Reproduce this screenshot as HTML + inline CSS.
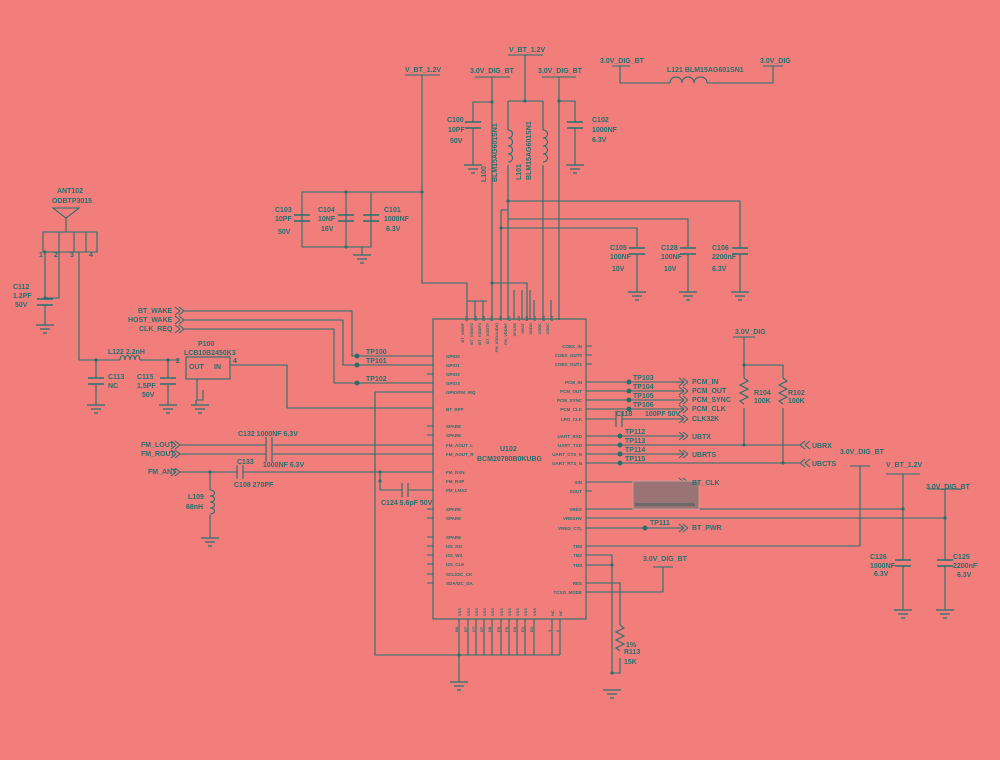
<!DOCTYPE html>
<html><head><meta charset="utf-8"><style>
html,body{margin:0;padding:0;background:#f27e7c;}
svg{display:block}
text{font-family:"Liberation Sans",sans-serif;font-weight:bold;fill:#24706f}
.l{font-size:7px}.s{font-size:4.5px}.t{font-size:4px}
</style></head><body>
<svg width="1000" height="760" viewBox="0 0 1000 760" xmlns="http://www.w3.org/2000/svg">
<defs>
<symbol id="g" overflow="visible"><path d="M-9 0H9M-5 4H5M-2 8H2" stroke="#24706f" stroke-width="1.3" fill="none"/></symbol>
<symbol id="cv" overflow="visible"><path d="M-8 -3H8M-8 3H8" stroke="#24706f" stroke-width="1.4"/></symbol>
</defs>
<rect width="1000" height="760" fill="#f27e7c"/>
<g stroke="#24706f" stroke-width="1.1" fill="none">
<rect x="433" y="319" width="153" height="300"/>
<path d="M405 75H440M422 75V283H467V320M467 301H487M422 192H302V247H371V192M346 192V247M362 247V255"/>
<path d="M475 77H510M492 77V320M492 102H473V122M473 128V165"/>
<path d="M508 55H543M525 55V101M508 101H543M508 101V130M508 165V320M543 101V130M543 165V320"/>
<path d="M542 77H576M559 77V320M559 101H575V122M575 128V165"/>
<path d="M492 283H527V320M501 210V320M501 210H508M508 201H740V248M508 219H688V248M501 228H637V248M740 254V292M688 254V292M637 254V292"/>
<path d="M475 301V320M483 301V320M514 290V320M522 290V320M530 290V320M534 300V320M551 300V320"/>
<path d="M508 130c6 0 6 8 0 8c6 0 6 8 0 8c6 0 6 8 0 8c6 0 6 8 0 8M543 130c6 0 6 8 0 8c6 0 6 8 0 8c6 0 6 8 0 8c6 0 6 8 0 8"/>
<path d="M612 66H630M620 66V83H670M707 83H773V66M763 66H783M670 83c0-8 12-8 12 0c0-8 12-8 12 0c0-8 13-8 13 0"/>
<path d="M53 208L79 208L66 218ZM66 218V232M43 232H97V252H43ZM59 232V252M74 232V252M86 232V252M45 252V298M45 305V325M59 252V298H45M79 252V360H120M140 360H178M168 360V378M168 384V405M96 360V378M96 384V405"/>
<path d="M120 360c0-6 5-6 5 0c0-6 5-6 5 0c0-6 5-6 5 0c0-6 5-6 5 0"/>
<rect x="186" y="357" width="44" height="22"/>
<path d="M230 365H287V408H433M197 379V400H203V390M196 400V405"/>
<path d="M184 311H352V356H433M184 320H343V365H433M184 329H334V383H433"/>
<path d="M184 311l-5-4m5 4l-5 4M184 320l-5-4m5 4l-5 4M184 329l-5-4m5 4l-5 4M180 311l-5-4m5 4l-5 4M180 320l-5-4m5 4l-5 4M180 329l-5-4m5 4l-5 4"/>
<path d="M180 445H266M272 445H433M180 454H266M272 454H433M266 437V462M272 437V462M180 472H237M243 472H433M237 465V479M243 465V479M210 472V490M210 515V538"/>
<path d="M210 490c6 0 6 6 0 6c6 0 6 6 0 6c6 0 6 6 0 6c6 0 6 6 0 6"/>
<path d="M180 445l-5-4m5 4l-5 4M180 454l-5-4m5 4l-5 4M176 445l-5-4m5 4l-5 4M176 454l-5-4m5 4l-5 4M180 472l-5-4m5 4l-5 4M176 472l-5-4m5 4l-5 4"/>
<path d="M380 472V490H402M408 490H433M402 483V497M408 483V497M375 392H433M375 392V655H560M459 619V682M468 619V655M476 619V655M484 619V655M492 619V655M501 619V655M509 619V655M517 619V655M525 619V655M534 619V655M552 619V655M560 619V655"/>
<path d="M586 382H684M586 391H684M586 400H684M586 409H684M586 419H616M622 419H684M616 411V427M622 411V427M586 436H684M586 445H800M586 454H684M586 463H800"/>
<path d="M688 382l-5-4m5 4l-5 4M688 391l-5-4m5 4l-5 4M688 400l-5-4m5 4l-5 4M688 409l-5-4m5 4l-5 4M688 419l-5-4m5 4l-5 4M684 382l-5-4m5 4l-5 4M684 391l-5-4m5 4l-5 4M684 400l-5-4m5 4l-5 4M684 409l-5-4m5 4l-5 4M684 419l-5-4m5 4l-5 4"/>
<path d="M684 436l-5-4m5 4l-5 4M688 436l-5-4m5 4l-5 4M684 454l-5-4m5 4l-5 4M688 454l-5-4m5 4l-5 4"/>
<path d="M800 445l5-4m-5 4l5 4M805 445l5-4m-5 4l5 4M800 463l5-4m-5 4l5 4M805 463l5-4m-5 4l5 4"/>
<path d="M733 337H755M744 337V365H783V378M744 365V378M744 408V445M783 408V463"/>
<path d="M744 378l4 3l-8 4l8 4l-8 4l8 4l-8 4l4 3M783 378l4 3l-8 4l8 4l-8 4l8 4l-8 4l4 3"/>
<path d="M586 482H684M586 491H592M586 509H903M586 518H945M586 528H684M586 546H860V466M850 466H870M586 555H612V673M586 565H612M586 583H620V625M620 658V673H612M586 592H663V567M653 567H673M684 528l-5-4m5 4l-5 4M688 528l-5-4m5 4l-5 4M684 482l-5-4m5 4l-5 4M688 482l-5-4m5 4l-5 4"/>
<path d="M620 625l4 3l-8 4l8 4l-8 4l8 4l-8 4l4 3"/>
<path d="M886 474H920M903 474V560M903 566V610M928 489H962M945 489V560M945 566V610"/>
<path d="M586 346H592M586 355H592M586 364H592M427 356H433M427 365H433M427 374H433M427 383H433M427 426H433M427 435H433M427 509H433M427 518H433M427 537H433M427 546H433M427 555H433M427 564H433M427 574H433M427 583H433"/>
</g>
<rect x="633" y="481" width="66" height="28" fill="#9a7474" stroke="#c99" stroke-width="1"/>
<rect x="635" y="503" width="60" height="3" fill="#6f6767"/>
<g fill="#24706f">
<circle cx="422" cy="192" r="1.6"/><circle cx="346" cy="192" r="1.6"/><circle cx="346" cy="247" r="1.6"/><circle cx="492" cy="102" r="1.6"/><circle cx="525" cy="101" r="1.6"/><circle cx="559" cy="101" r="1.6"/><circle cx="508" cy="201" r="1.6"/><circle cx="501" cy="228" r="1.6"/><circle cx="492" cy="283" r="1.6"/>
<circle cx="45" cy="252" r="1.6"/><circle cx="45" cy="298" r="1.6"/><circle cx="96" cy="360" r="1.6"/><circle cx="168" cy="360" r="1.6"/><circle cx="210" cy="472" r="1.6"/><circle cx="380" cy="472" r="1.6"/><circle cx="380" cy="481" r="1.6"/>
<circle cx="357" cy="356" r="2.5"/><circle cx="357" cy="365" r="2.5"/><circle cx="357" cy="383" r="2.5"/>
<circle cx="629" cy="382" r="2.5"/><circle cx="629" cy="391" r="2.5"/><circle cx="629" cy="400" r="2.5"/><circle cx="629" cy="409" r="2.5"/>
<circle cx="620" cy="436" r="2.5"/><circle cx="620" cy="445" r="2.5"/><circle cx="620" cy="454" r="2.5"/><circle cx="620" cy="463" r="2.5"/><circle cx="645" cy="528" r="2.5"/>
<circle cx="744" cy="365" r="1.6"/><circle cx="744" cy="445" r="1.6"/><circle cx="783" cy="463" r="1.6"/><circle cx="903" cy="509" r="1.6"/><circle cx="945" cy="518" r="1.6"/><circle cx="459" cy="655" r="1.6"/><circle cx="612" cy="565" r="1.6"/><circle cx="612" cy="673" r="1.6"/>
</g>
<use href="#cv" x="302" y="218"/><use href="#cv" x="346" y="218"/><use href="#cv" x="371" y="218"/><use href="#cv" x="473" y="125"/><use href="#cv" x="575" y="125"/>
<use href="#cv" x="637" y="251"/><use href="#cv" x="688" y="251"/><use href="#cv" x="740" y="251"/><use href="#cv" x="45" y="302"/><use href="#cv" x="96" y="381"/><use href="#cv" x="168" y="381"/><use href="#cv" x="903" y="563"/><use href="#cv" x="945" y="563"/>
<use href="#g" x="362" y="255"/><use href="#g" x="473" y="165"/><use href="#g" x="575" y="165"/><use href="#g" x="637" y="292"/><use href="#g" x="688" y="292"/><use href="#g" x="740" y="292"/><use href="#g" x="45" y="325"/><use href="#g" x="96" y="405"/><use href="#g" x="168" y="405"/><use href="#g" x="200" y="405"/><use href="#g" x="210" y="538"/><use href="#g" x="459" y="682"/><use href="#g" x="612" y="690"/><use href="#g" x="903" y="610"/><use href="#g" x="945" y="610"/>
<g class="l">
<text x="405" y="72">V_BT_1.2V</text><text x="470" y="73">3.0V_DIG_BT</text><text x="509" y="52">V_BT_1.2V</text><text x="538" y="73">3.0V_DIG_BT</text>
<text x="600" y="63">3.0V_DIG_BT</text><text x="760" y="63">3.0V_DIG</text><text x="667" y="72">L121  BLM15AG601SN1</text>
<text x="447" y="122">C100</text><text x="448" y="132">10PF</text><text x="450" y="143">50V</text>
<text x="592" y="122">C102</text><text x="592" y="132">1000NF</text><text x="592" y="142">6.3V</text>
<text transform="translate(486,182) rotate(-90)">L100</text><text transform="translate(497,182) rotate(-90)">BLM15AG601SN1</text>
<text transform="translate(521,180) rotate(-90)">L101</text><text transform="translate(531,180) rotate(-90)">BLM15AG601SN1</text>
<text x="275" y="212">C103</text><text x="275" y="221">10PF</text><text x="278" y="234">50V</text>
<text x="318" y="212">C104</text><text x="318" y="221">10NF</text><text x="321" y="231">16V</text>
<text x="384" y="212">C101</text><text x="384" y="221">1000NF</text><text x="386" y="231">6.3V</text>
<text x="610" y="250">C105</text><text x="610" y="259">100NF</text><text x="612" y="271">10V</text>
<text x="661" y="250">C128</text><text x="661" y="259">100NF</text><text x="664" y="271">10V</text>
<text x="712" y="250">C106</text><text x="712" y="259">2200nF</text><text x="712" y="271">6.3V</text>
<text x="57" y="193">ANT102</text><text x="52" y="203">ODBTP3015</text>
<text x="39" y="257">1</text><text x="54" y="257">2</text><text x="70" y="257">3</text><text x="89" y="257">4</text>
<text x="13" y="289">C112</text><text x="13" y="298">1.2PF</text><text x="15" y="307">50V</text>
<text x="108" y="354">L122  2.2nH</text><text x="108" y="379">C113</text><text x="108" y="388">NC</text>
<text x="137" y="379">C115</text><text x="137" y="388">1.5PF</text><text x="142" y="397">50V</text>
<text x="198" y="346">P100</text><text x="184" y="355">LCB10B2450K3</text><text x="189" y="369">OUT</text><text x="214" y="369">IN</text><text x="176" y="363">2</text><text x="233" y="363">4</text>
<text x="138" y="313">BT_WAKE</text><text x="128" y="322">HOST_WAKE</text><text x="139" y="331">CLK_REQ</text>
<text x="366" y="354">TP100</text><text x="366" y="363">TP101</text><text x="366" y="381">TP102</text>
<text x="238" y="436">C132    1000NF   6.3V</text><text x="263" y="467">1000NF   6.3V</text><text x="237" y="464">C133</text><text x="234" y="487">C108  270PF</text>
<text x="141" y="447">FM_LOUT</text><text x="141" y="456">FM_ROUT</text><text x="148" y="474">FM_ANT</text>
<text x="188" y="499">L109</text><text x="186" y="509">68nH</text><text x="381" y="505">C124 5.6pF  50V</text>
<text x="500" y="451">U102</text><text x="477" y="461">BCM20780B0KUBG</text>
<text x="633" y="380">TP103</text><text x="633" y="389">TP104</text><text x="633" y="398">TP105</text><text x="633" y="407">TP106</text>
<text x="692" y="384">PCM_IN</text><text x="692" y="393">PCM_OUT</text><text x="692" y="402">PCM_SYNC</text><text x="692" y="411">PCM_CLK</text><text x="692" y="421">CLK32K</text>
<text x="616" y="416">C118</text><text x="645" y="416">100PF 50V</text>
<text x="625" y="434">TP112</text><text x="625" y="443">TP113</text><text x="625" y="452">TP114</text><text x="625" y="461">TP115</text>
<text x="692" y="439">UBTX</text><text x="692" y="457">UBRTS</text><text x="812" y="448">UBRX</text><text x="812" y="466">UBCTS</text>
<text x="735" y="334">3.0V_DIG</text><text x="754" y="395">R104</text><text x="754" y="403">100K</text><text x="788" y="395">R102</text><text x="788" y="403">100K</text>
<text x="692" y="485">BT_CLK</text><text x="650" y="525">TP111</text><text x="692" y="530">BT_PWR</text>
<text x="840" y="454">3.0V_DIG_BT</text><text x="886" y="467">V_BT_1.2V</text><text x="926" y="489">3.0V_DIG_BT</text>
<text x="870" y="559">C126</text><text x="870" y="568">1000NF</text><text x="874" y="576">6.3V</text>
<text x="953" y="559">C125</text><text x="953" y="568">2200nF</text><text x="957" y="577">6.3V</text>
<text x="643" y="561">3.0V_DIG_BT</text><text x="626" y="647">1%</text><text x="624" y="654">R113</text><text x="624" y="664">15K</text>
</g>
<g class="s">
<text x="446" y="358">GPIO0</text><text x="446" y="367">GPIO1</text><text x="446" y="376">GPIO2</text><text x="446" y="385">GPIO3</text><text x="446" y="394">GPIO/FM_IRQ</text><text x="446" y="411">BT_RFP</text>
<text x="446" y="428">SPARE</text><text x="446" y="437">SPARE</text><text x="446" y="447">FM_AOUT_L</text><text x="446" y="456">FM_AOUT_R</text><text x="446" y="474">FM_RXN</text><text x="446" y="483">FM_RXP</text><text x="446" y="492">FM_LNA2</text>
<text x="446" y="511">SPARE</text><text x="446" y="520">SPARE</text><text x="446" y="539">SPARE</text><text x="446" y="548">I2S_DO</text><text x="446" y="557">I2S_WS</text><text x="446" y="566">I2S_CLK</text><text x="446" y="576">SCL/I2C_CK</text><text x="446" y="585">SDA/I2C_DA</text>
<g text-anchor="end"><text x="582" y="348">COEX_IN</text><text x="582" y="357">COEX_OUT0</text><text x="582" y="366">COEX_OUT1</text><text x="582" y="384">PCM_IN</text><text x="582" y="393">PCM_OUT</text><text x="582" y="402">PCM_SYNC</text><text x="582" y="411">PCM_CLK</text><text x="582" y="421">LPO_CLK</text>
<text x="582" y="438">UART_RXD</text><text x="582" y="447">UART_TXD</text><text x="582" y="456">UART_CTS_N</text><text x="582" y="465">UART_RTS_N</text><text x="582" y="484">XIN</text><text x="582" y="493">XOUT</text><text x="582" y="511">VREG</text><text x="582" y="520">VREGHV</text><text x="582" y="530">VREG_CTL</text>
<text x="582" y="548">TM0</text><text x="582" y="557">TM2</text><text x="582" y="567">TM3</text><text x="582" y="585">RES</text><text x="582" y="594">TCXO_MODE</text></g>
</g>
<g class="t" text-anchor="end">
<text transform="translate(464,323) rotate(-90)">BT_VDDIF</text><text transform="translate(473,323) rotate(-90)">BT_VDDIF2</text><text transform="translate(481,323) rotate(-90)">BT_VDDIF3</text><text transform="translate(489,323) rotate(-90)">BT_VDDTF</text><text transform="translate(498,323) rotate(-90)">FM_VDDAUDIO</text><text transform="translate(507,323) rotate(-90)">FM_VDDRF</text><text transform="translate(516,323) rotate(-90)">SPARE</text><text transform="translate(524,323) rotate(-90)">VBAT</text><text transform="translate(532,323) rotate(-90)">VDDO</text><text transform="translate(541,323) rotate(-90)">VDDC</text><text transform="translate(549,323) rotate(-90)">VDDC</text>
<text transform="translate(468,316) rotate(-90)">G7</text><text transform="translate(477,316) rotate(-90)">E6</text><text transform="translate(485,316) rotate(-90)">D6</text><text transform="translate(493,316) rotate(-90)">D6</text><text transform="translate(502,316) rotate(-90)">A5</text><text transform="translate(511,316) rotate(-90)">C7</text><text transform="translate(520,316) rotate(-90)">A6</text><text transform="translate(528,316) rotate(-90)">E5</text><text transform="translate(536,316) rotate(-90)">C5</text><text transform="translate(545,316) rotate(-90)">E4</text><text transform="translate(553,316) rotate(-90)">C4</text>
</g>
<g class="t">
<text transform="translate(461,616) rotate(-90)">VSS</text><text transform="translate(470,616) rotate(-90)">VSS</text><text transform="translate(478,616) rotate(-90)">VSS</text><text transform="translate(486,616) rotate(-90)">VSS</text><text transform="translate(494,616) rotate(-90)">VSS</text><text transform="translate(503,616) rotate(-90)">VSS</text><text transform="translate(511,616) rotate(-90)">VSS</text><text transform="translate(519,616) rotate(-90)">VSS</text><text transform="translate(527,616) rotate(-90)">VSS</text><text transform="translate(536,616) rotate(-90)">VSS</text><text transform="translate(554,616) rotate(-90)">NC</text><text transform="translate(562,616) rotate(-90)">NC</text>
<text transform="translate(458,632) rotate(-90)">B8</text><text transform="translate(467,632) rotate(-90)">B7</text><text transform="translate(475,632) rotate(-90)">C7</text><text transform="translate(483,632) rotate(-90)">D7</text><text transform="translate(491,632) rotate(-90)">D5</text><text transform="translate(500,632) rotate(-90)">E5</text><text transform="translate(508,632) rotate(-90)">F5</text><text transform="translate(516,632) rotate(-90)">D3</text><text transform="translate(524,632) rotate(-90)">E3</text><text transform="translate(533,632) rotate(-90)">B3</text><text transform="translate(551,632) rotate(-90)">1</text><text transform="translate(559,632) rotate(-90)">2</text>
</g>
</svg>
</body></html>
